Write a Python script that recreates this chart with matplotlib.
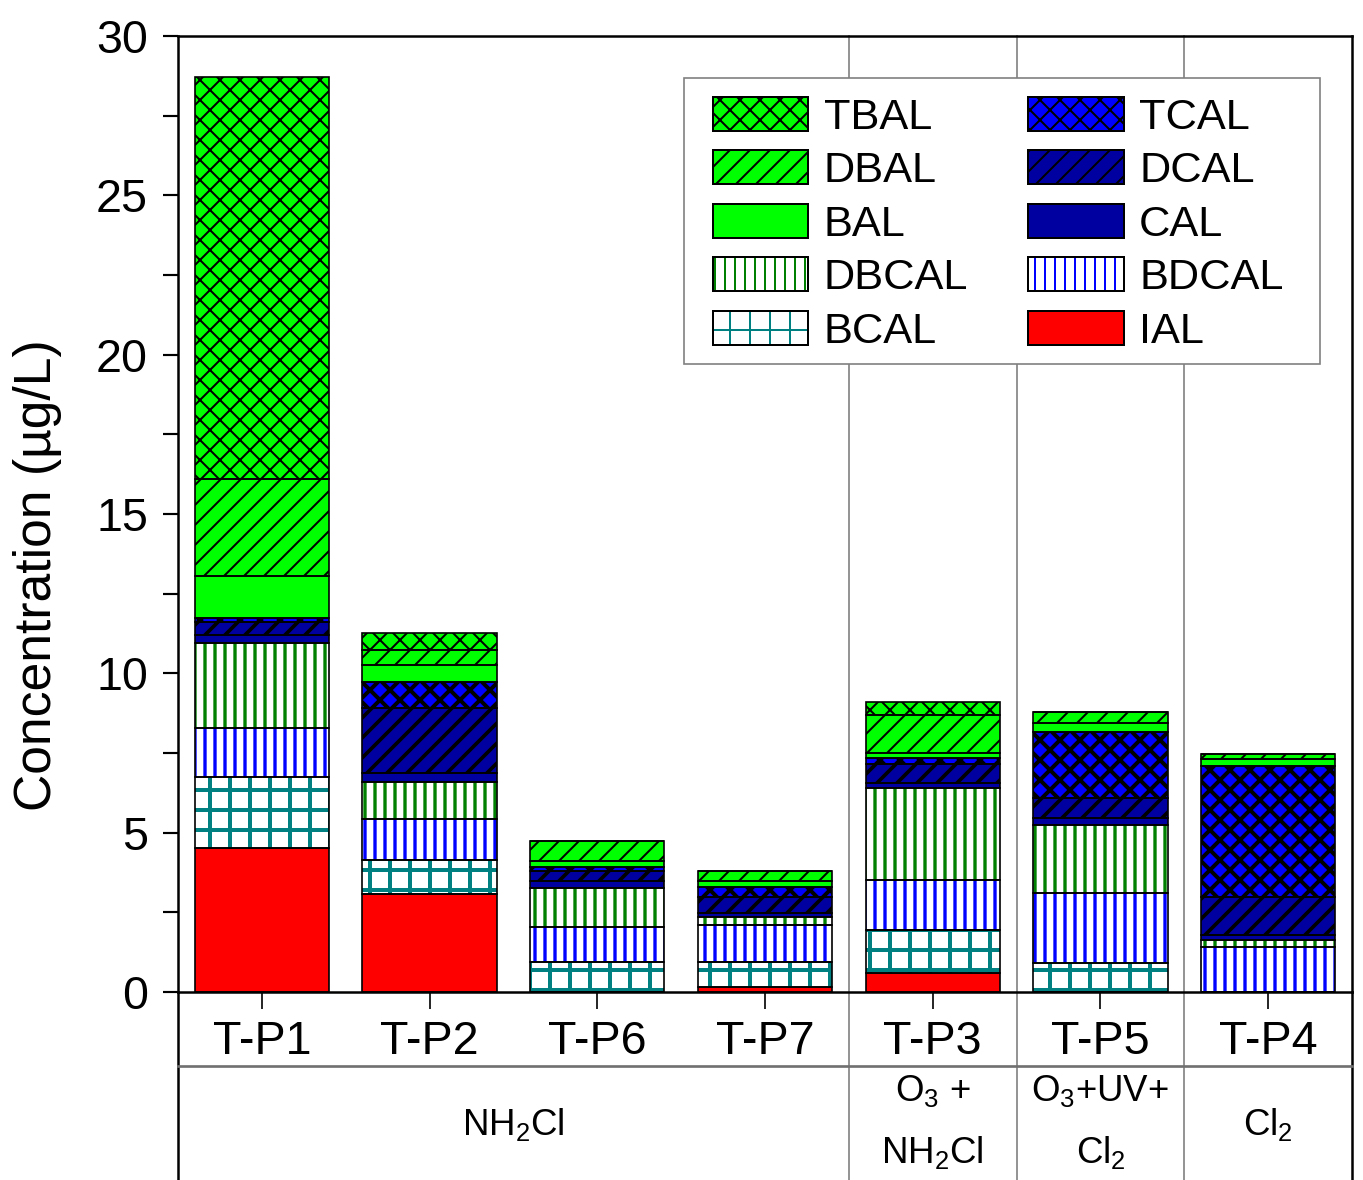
import matplotlib
matplotlib.use('Agg')
import matplotlib.pyplot as plt
from matplotlib.patches import Patch, Rectangle
from matplotlib.legend_handler import HandlerTuple
from matplotlib.ticker import MultipleLocator

plt.rcParams['font.family'] = ['Liberation Sans', 'DejaVu Sans']
plt.rcParams['mathtext.fontset'] = 'custom'
plt.rcParams['mathtext.rm'] = 'Liberation Sans'
plt.rcParams['mathtext.it'] = 'Liberation Sans:italic'
plt.rcParams['mathtext.bf'] = 'Liberation Sans:bold'

samples = ['T-P1', 'T-P2', 'T-P6', 'T-P7', 'T-P3', 'T-P5', 'T-P4']

# stacked from bottom to top (ug/L)
IAL = [4.52, 3.07, 0.00, 0.16, 0.59, 0.00, 0.00]
BCAL = [2.23, 1.07, 0.95, 0.79, 1.36, 0.90, 0.00]
BDCAL = [1.53, 1.29, 1.10, 1.15, 1.56, 2.20, 1.42]
DBCAL = [2.67, 1.16, 1.21, 0.24, 2.88, 2.14, 0.21]
CAL = [0.25, 0.28, 0.21, 0.13, 0.16, 0.21, 0.16]
DCAL = [0.42, 2.04, 0.32, 0.52, 0.62, 0.63, 1.20]
TCAL = [0.11, 0.82, 0.13, 0.29, 0.16, 2.09, 4.10]
BAL = [1.32, 0.53, 0.20, 0.21, 0.16, 0.26, 0.21]
DBAL = [3.05, 0.47, 0.63, 0.31, 1.20, 0.37, 0.17]
TBAL = [12.60, 0.55, 0.00, 0.00, 0.42, 0.00, 0.00]

# treatment rows under the sample names: (first index, last index, lines)
treatments = [
    (0, 3, [r'NH$_2$Cl']),
    (4, 4, [r'O$_3$ +', r'NH$_2$Cl']),
    (5, 5, [r'O$_3$+UV+', r'Cl$_2$']),
    (6, 6, [r'Cl$_2$']),
]

# name, data, face, hatch, hatch colour, hatch width
series = [
    ('IAL', IAL, '#FF0000', None, 'black', 1.0),
    ('BCAL', BCAL, 'white', '+', '#008080', 2.4),
    ('BDCAL', BDCAL, 'white', '||', '#0000FF', 2.0),
    ('DBCAL', DBCAL, 'white', '||', '#008000', 2.0),
    ('CAL', CAL, '#0000A0', None, 'black', 1.0),
    ('DCAL', DCAL, '#0000A0', '//', 'black', 2.2),
    ('TCAL', TCAL, '#0000FF', 'xx', 'black', 2.4),
    ('BAL', BAL, '#00FF00', None, 'black', 1.0),
    ('DBAL', DBAL, '#00FF00', '//', 'black', 1.2),
    ('TBAL', TBAL, '#00FF00', 'xx', 'black', 1.2),
]

dpi = 120
fig = plt.figure(figsize=(1363 / dpi, 1180 / dpi), dpi=dpi)
ax = fig.add_axes([178 / 1363, 1 - 992 / 1180, 1174 / 1363, 956 / 1180])

x = list(range(len(samples)))
bottom = [0.0] * len(samples)
handles = {}
for name, vals, face, hatch, hcol, hlw in series:
    plt.rcParams['hatch.linewidth'] = hlw
    bars = ax.bar(x, vals, 0.8, bottom=bottom, color=face, hatch=hatch,
                  edgecolor=hcol, linewidth=0, zorder=2)
    for b in bars:
        try:
            b.set_hatch_linewidth(hlw)
        except AttributeError:
            pass
    ax.bar(x, vals, 0.8, bottom=bottom, fill=False, edgecolor='black',
           linewidth=1.0, zorder=3)
    h1 = Patch(facecolor=face, hatch=hatch, edgecolor=hcol, linewidth=0)
    try:
        h1.set_hatch_linewidth(hlw)
    except AttributeError:
        pass
    h2 = Patch(fill=False, edgecolor='black', linewidth=1.2)
    handles[name] = (h1, h2)
    bottom = [b0 + v for b0, v in zip(bottom, vals)]

ax.set_xlim(-0.5, 6.5)
ax.set_ylim(0, 30)
ax.yaxis.set_major_locator(MultipleLocator(5))
ax.yaxis.set_minor_locator(MultipleLocator(2.5))
ax.set_xticks(x)
ax.set_xticklabels(samples, fontsize=28)
ax.tick_params(axis='y', which='major', labelsize=28, length=9, width=1.3,
               direction='out', pad=9)
ax.tick_params(axis='y', which='minor', length=9, width=1.3, direction='out')
ax.tick_params(axis='x', length=10, width=1.0, direction='out', pad=7)
ax.set_ylabel('Concentration (µg/L)', fontsize=31)
ax.yaxis.set_label_coords(-0.099, 0.436)
for s in ax.spines.values():
    s.set_linewidth(1.5)

# group separators and table lines below the axis
tr = ax.get_xaxis_transform()
low = -0.21
for xs in [3.5, 4.5, 5.5]:
    ax.plot([xs, xs], [low, 1], transform=tr, color='#808080', lw=1.0,
            clip_on=False, zorder=1)
for xs in [-0.5, 6.5]:
    ax.plot([xs, xs], [low, 0], transform=tr, color='black', lw=1.5,
            clip_on=False)
ax.plot([-0.5, 6.5], [-0.0774, -0.0774], transform=tr, color='#707070',
        lw=1.6, clip_on=False)

for i0, i1, lines in treatments:
    xc = (i0 + i1) / 2
    if len(lines) == 1:
        ax.text(xc, -0.139, lines[0], transform=tr, ha='center', va='center',
                fontsize=22)
    else:
        ax.text(xc, -0.1035, lines[0], transform=tr, ha='center',
                va='center', fontsize=22)
        ax.text(xc, -0.168, lines[1], transform=tr, ha='center',
                va='center', fontsize=22)

# legend frame drawn separately so the box can be wider than its content
ax.add_patch(Rectangle((0.431, 0.657), 0.542, 0.299, transform=ax.transAxes,
                       facecolor='white', edgecolor='#808080', lw=1.0,
                       zorder=4))
order = ['TBAL', 'DBAL', 'BAL', 'DBCAL', 'BCAL',
         'TCAL', 'DCAL', 'CAL', 'BDCAL', 'IAL']
leg = ax.legend([handles[n] for n in order], order, ncol=2, fontsize=26,
                loc='upper left', bbox_to_anchor=(0.4557, 0.9367),
                borderaxespad=0, handler_map={tuple: HandlerTuple(ndivide=1)},
                handlelength=2.2, handleheight=0.83, handletextpad=0.36,
                labelspacing=0.29, columnspacing=1.38, borderpad=0,
                frameon=False)
leg.set_zorder(5)

fig.savefig('out.png', dpi=dpi)
